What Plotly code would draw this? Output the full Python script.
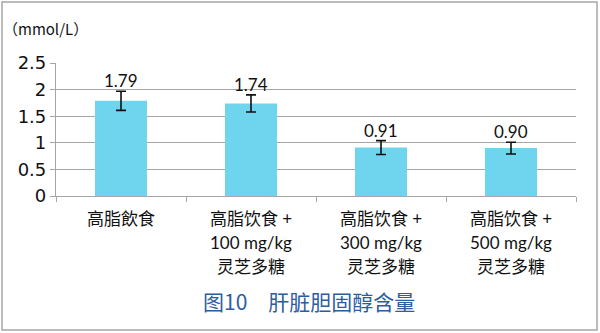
import plotly.graph_objects as go

categories = ["高脂飲食", "高脂饮食 +\n100 mg/kg\n灵芝多糖", "高脂饮食 +\n300 mg/kg\n灵芝多糖", "高脂饮食 +\n500 mg/kg\n灵芝多糖"]
values = [1.79, 1.74, 0.91, 0.90]
errors = [0.18, 0.16, 0.13, 0.11]
labels = ["1.79", "1.74", "0.91", "0.90"]
y_ticks = [0, 0.5, 1, 1.5, 2, 2.5]
y_tick_text = ["0", "0.5", "1", "1.5", "2", "2.5"]

fig = go.Figure()
fig.add_trace(go.Bar(
    x=categories, y=values, width=0.4,
    marker=dict(color="#6FD5EE", line=dict(width=0)),
    error_y=dict(type="data", array=errors, visible=True, color="#111111", thickness=1.6, width=5),
    hoverinfo="skip", showlegend=False,
))

for c, v, e, t in zip(categories, values, errors, labels):
    fig.add_annotation(
        x=c, y=v + e, text=t, showarrow=False, yanchor="bottom", yshift=-2,
        font=dict(size=17, color="#111111", family="Lato, Noto Sans"),
    )
    for i, line in enumerate(c.split("\n")):
        fig.add_annotation(
            x=c, y=0, yref="y", text=line, showarrow=False,
            yanchor="middle", yshift=-22 - 24 * i,
            font=dict(size=17, color="#111111", family="Lato, Noto Sans CJK SC"),
        )

fig.update_layout(
    width=600, height=333,
    margin=dict(l=56, r=24, t=63, b=137),
    paper_bgcolor="white", plot_bgcolor="white",
    font=dict(family="Lato, Noto Sans CJK SC", color="#111111"),
    bargap=0.6,
)
fig.update_yaxes(
    range=[0, 2.5], tickvals=y_ticks, ticktext=y_tick_text,
    showgrid=True, gridcolor="#A6A6A6", gridwidth=1.2,
    showline=True, linecolor="#A6A6A6", linewidth=1.2,
    ticks="outside", ticklen=5, tickcolor="#A6A6A6",
    tickfont=dict(size=18, family="DejaVu Sans"), zeroline=False,
)
fig.update_xaxes(
    showline=True, linecolor="#A6A6A6", linewidth=1.2,
    ticks="outside", ticklen=5, tickcolor="#A6A6A6", tickson="boundaries",
    showticklabels=False,
)
fig.add_annotation(
    text="（mmol/L）", xref="paper", yref="paper", x=-0.106, y=(196 - 29) / 133,
    xanchor="left", yanchor="middle", showarrow=False,
    font=dict(size=15, family="Noto Sans CJK SC", color="#111111"),
)
fig.add_annotation(
    text="图10　肝脏胆固醇含量", xref="paper", yref="paper", x=(309 - 56) / 520, y=(196 - 301) / 133,
    xanchor="center", yanchor="middle", showarrow=False,
    font=dict(size=21, family="Noto Sans CJK SC", color="#2E5D9F"),
)
fig.add_shape(
    type="rect", xref="paper", yref="paper",
    x0=(2 - 56) / 520, x1=(597 - 56) / 520, y0=(196 - 330) / 133, y1=(196 - 2) / 133,
    line=dict(color="#A6A6A6", width=1.5), fillcolor="rgba(0,0,0,0)", layer="below",
)
fig.write_html("out.html")
